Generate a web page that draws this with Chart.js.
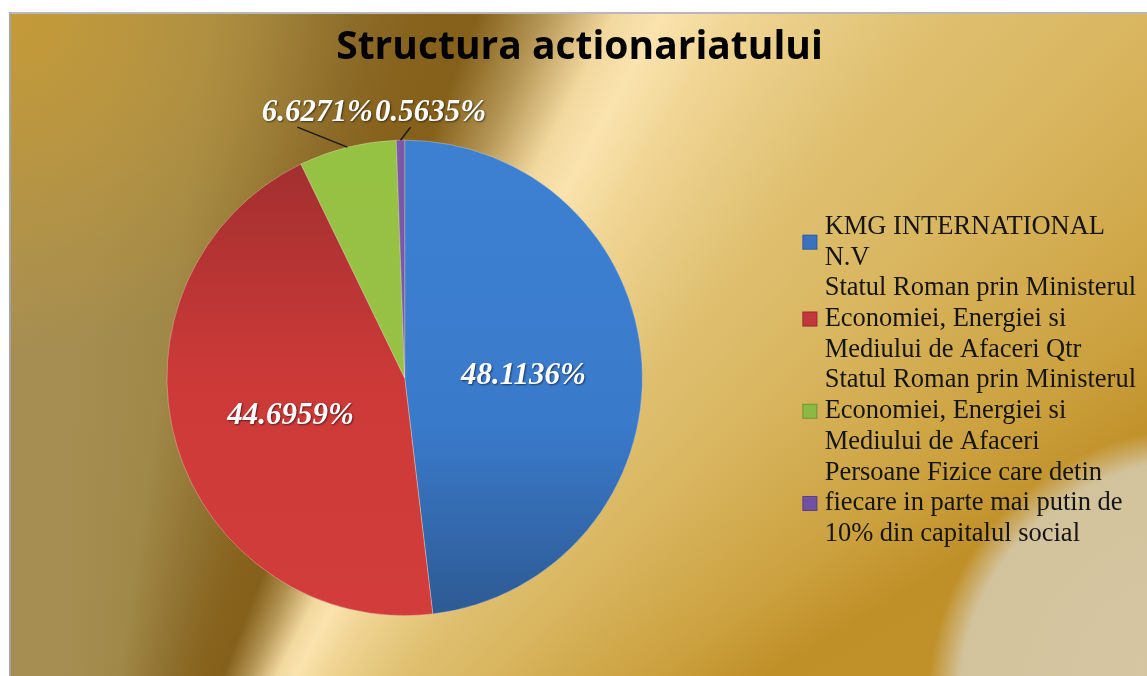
<!DOCTYPE html>
<html lang="ro">
<head>
<meta charset="UTF-8">
<title>Structura actionariatului</title>
<script src="https://cdn.jsdelivr.net/npm/chart.js@4.4.1/dist/chart.umd.min.js"></script>
<style>
    body { margin: 0; background: #fff; }
    .frame {
        position: absolute; left: 9px; top: 12px;
        width: 1136px; height: 662px;
        border-left: 2px solid #a4a4a4;
        border-top: 2px solid #b8b8b8;
    }
    /* gold "preset" fill of the chart area */
    #chart {
        display: block;
        background:
            radial-gradient(circle at 1189px 686px, #d6c7a3 0px, #d3c39d 240px, rgba(211,195,157,0) 272px),
            radial-gradient(circle at 0 0, rgba(200,156,52,0.9) 0px, rgba(200,156,52,0) 340px),
            conic-gradient(from 340deg at 49px 1086px,
                #a68e52 0deg, #a68e52 17deg, #a58d50 22deg, #a08848 28deg, #8f702e 34deg,
                #87631e 38deg, #84601a 41deg, #b39453 44deg, #f2d89e 47deg, #fae3ae 49deg,
                #f0d594 52deg, #dfc070 59deg, #d9b660 65deg, #cca240 74deg, #c09028 79deg,
                #c09030 110deg, #c09030 360deg);
    }
</style>
</head>
<body>
<div class="frame">
    <canvas id="chart" width="1136" height="662"></canvas>
</div>
<script>
// data
const categories = [
    ['KMG INTERNATIONAL', 'N.V'],
    ['Statul Roman prin Ministerul', 'Economiei, Energiei si', 'Mediului de Afaceri Qtr'],
    ['Statul Roman prin Ministerul', 'Economiei, Energiei si', 'Mediului de Afaceri'],
    ['Persoane Fizice care detin', 'fiecare in parte mai putin de', '10% din capitalul social']
];
const shares = [48.1136, 44.6959, 6.6271, 0.5635];
const percentLabels = shares.map(v => v.toFixed(4) + '%');

// styles
const sliceStops = [
    [[0, '#3d80d2'], [0.6, '#3a7acb'], [1, '#2d5a92']],
    [[0, '#9e2e2e'], [0.5, '#cc3a38'], [1, '#d23d3b']],
    [[0, '#96c244'], [1, '#98c043']],
    [[0, '#7b58aa'], [1, '#7856a6']]
];
const legendColors = ['#3b72c0', '#c0383a', '#8cb844', '#7050a0'];
const legendFontSize = 26.5;
const legendLineHeight = 1.16;
const legendBoxHeight = 36; // sets where the first text line sits in each item
// small slices get their label outside, offset from the rim point
const outsideLabelOffset = {2: [-30, -34], 3: [30, -27]};

const sliceLabels = {
    id: 'sliceLabels',
    afterDatasetsDraw(chart) {
        const ctx = chart.ctx;
        const meta = chart.getDatasetMeta(0);
        ctx.save();
        ctx.font = 'italic bold 31px "Liberation Serif", "Times New Roman", serif';
        ctx.textAlign = 'center';
        ctx.textBaseline = 'middle';
        meta.data.forEach((arc, i) => {
            const {x, y, startAngle, endAngle, outerRadius} =
                arc.getProps(['x', 'y', 'startAngle', 'endAngle', 'outerRadius'], true);
            const mid = (startAngle + endAngle) / 2;
            const off = outsideLabelOffset[i];
            let tx, ty;
            if (off) {
                const ex = x + Math.cos(mid) * outerRadius;
                const ey = y + Math.sin(mid) * outerRadius;
                tx = ex + off[0];
                ty = ey + off[1];
                ctx.strokeStyle = '#1b1b1b';
                ctx.lineWidth = 1.5;
                ctx.beginPath();
                ctx.moveTo(ex, ey);
                ctx.lineTo(tx - 20, ty + 14);
                ctx.stroke();
            } else {
                tx = x + Math.cos(mid) * outerRadius / 2;
                ty = y + Math.sin(mid) * outerRadius / 2 + 5;
            }
            ctx.shadowColor = 'rgba(0,0,0,0.55)';
            ctx.shadowBlur = 2;
            ctx.shadowOffsetX = 1;
            ctx.shadowOffsetY = 1;
            ctx.fillStyle = '#ffffff';
            ctx.fillText(percentLabels[i], tx, ty);
            ctx.shadowColor = 'transparent';
        });
        ctx.restore();
    }
};

// legend squares centred on the multi-line labels
const legendSquares = {
    id: 'legendSquares',
    afterDraw(chart) {
        const lg = chart.legend;
        if (!lg || !lg.legendHitBoxes) return;
        const ctx = chart.ctx;
        const lh = legendFontSize * legendLineHeight;
        lg.legendHitBoxes.forEach((hb, i) => {
            const n = categories[i].length;
            const cy = hb.top + legendBoxHeight / 2 + (n - 1) * lh / 2;
            ctx.save();
            ctx.fillStyle = legendColors[i];
            ctx.fillRect(hb.left + 6, cy - 7.5, 15, 15);
            ctx.strokeStyle = 'rgba(0,0,0,0.2)';
            ctx.lineWidth = 1;
            ctx.strokeRect(hb.left + 6.5, cy - 7, 14, 14);
            ctx.restore();
        });
    }
};

new Chart(document.getElementById('chart'), {
    type: 'pie',
    data: {
        labels: categories,
        datasets: [{
            data: shares,
            backgroundColor: ctx => {
                const area = ctx.chart.chartArea;
                const stops = sliceStops[ctx.dataIndex];
                if (!area) return stops[0][1];
                const g = ctx.chart.ctx.createLinearGradient(0, area.top, 0, area.bottom);
                stops.forEach(([o, c]) => g.addColorStop(o, c));
                return g;
            },
            borderWidth: 0.7,
            borderColor: 'rgba(235,225,215,0.5)'
        }]
    },
    options: {
        responsive: false,
        animation: false,
        layout: { padding: { left: 2, right: 1, top: 0, bottom: 60 } },
        plugins: {
            title: {
                display: true,
                text: 'Structura actionariatului',
                color: '#000',
                font: { family: "'Open Sans', sans-serif", size: 39, weight: 'bold', lineHeight: 1.2 },
                padding: { top: 10, bottom: 69 }
            },
            legend: {
                position: 'right',
                fullSize: false,
                onClick: null,
                labels: {
                    font: { family: "'Liberation Serif', 'Times New Roman', serif", size: legendFontSize, lineHeight: legendLineHeight },
                    color: '#151515',
                    boxWidth: 15,
                    boxHeight: legendBoxHeight,
                    padding: 0,
                    generateLabels: () => categories.map((lines, i) => ({
                        text: lines,
                        index: i,
                        hidden: false,
                        fillStyle: 'rgba(0,0,0,0)',
                        strokeStyle: 'rgba(0,0,0,0)',
                        lineWidth: 0,
                        fontColor: '#151515'
                    }))
                }
            },
            tooltip: { enabled: false }
        }
    },
    plugins: [sliceLabels, legendSquares]
});
</script>
</body>
</html>
